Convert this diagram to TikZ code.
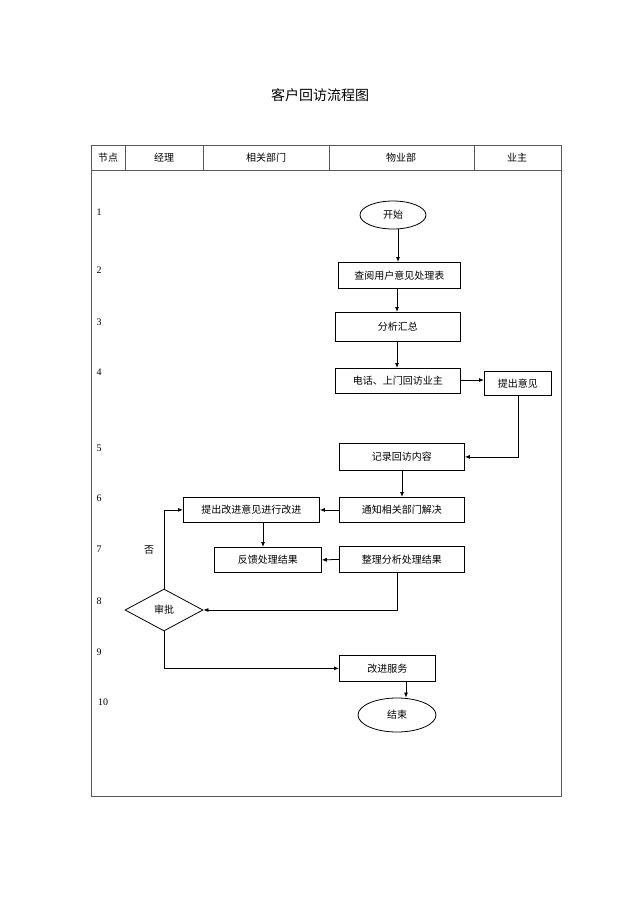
\documentclass[tikz,border=0pt]{standalone}
\usepackage{fontspec}
\setmainfont{Liberation Serif}
\newfontfamily\cjk{Noto Sans CJK SC}
\usetikzlibrary{arrows.meta,shapes.geometric}
\begin{document}
\begin{tikzpicture}[x=1pt,y=-1pt,
  box/.style={draw,thick,font=\cjk\fontsize{10}{12}\selectfont,inner sep=0pt,anchor=north west},
  oval/.style={draw,thick,ellipse,font=\cjk\fontsize{10}{12}\selectfont,inner sep=0pt},
  arr/.style={thick,-{Latex[length=5pt,width=4pt]}},
  lab/.style={font=\cjk\fontsize{10}{12}\selectfont},
  num/.style={font=\fontsize{10}{12}\selectfont}]
\useasboundingbox (0,0) rectangle (640,906);
\fill[white] (0,0) rectangle (640,906);
\node[font=\cjk\fontsize{14}{16}\selectfont] (title) at (320,95) {客户回访流程图};
% table
\draw[thick,gray!70!black] (91,145) rectangle (561,796);
\draw[thick,gray!70!black] (91,170) -- (561,170);
\foreach \x in {125,203,329,474} \draw[thick,gray!70!black] (\x,145) -- (\x,170);
\node[lab] (h1) at (108,158) {节点};
\node[lab] (h2) at (164,158) {经理};
\node[lab] (h3) at (266,158) {相关部门};
\node[lab] (h4) at (401,158) {物业部};
\node[lab] (h5) at (517,158) {业主};
% numbers
\node[num] (n1) at (99,212) {1};
\node[num] (n2) at (99,270) {2};
\node[num] (n3) at (99,322) {3};
\node[num] (n4) at (99,372) {4};
\node[num] (n5) at (99,448) {5};
\node[num] (n6) at (99,498) {6};
\node[num] (n7) at (99,549) {7};
\node[num] (n8) at (99,601) {8};
\node[num] (n9) at (99,652) {9};
\node[num] (n10) at (103,702) {10};
% nodes
\node[oval,minimum width=66pt,minimum height=28pt] (start) at (393,215) {开始};
\node[box,minimum width=122pt,minimum height=26pt] (cy) at (338,262) {查阅用户意见处理表};
\node[box,minimum width=125pt,minimum height=29pt] (fx) at (335,312) {分析汇总};
\node[box,minimum width=125pt,minimum height=25pt] (dh) at (335,368) {电话、上门回访业主};
\node[box,minimum width=67pt,minimum height=24pt] (tc) at (484,371) {提出意见};
\node[box,minimum width=125pt,minimum height=27pt] (jl) at (339,443) {记录回访内容};
\node[box,minimum width=125pt,minimum height=25pt] (tz) at (339,497) {通知相关部门解决};
\node[box,minimum width=136pt,minimum height=25pt] (gj) at (183,497) {提出改进意见进行改进};
\node[box,minimum width=107pt,minimum height=25pt] (fk) at (214,547) {反馈处理结果};
\node[box,minimum width=125pt,minimum height=26pt] (zl) at (339,546) {整理分析处理结果};
\node[draw,thick,diamond,aspect=1.85,minimum width=78pt,minimum height=42pt,inner sep=0pt,font=\cjk\fontsize{10}{12}\selectfont] (sp) at (164,610) {审批};
\node[box,minimum width=96pt,minimum height=26pt] (fw) at (339,655) {改进服务};
\node[oval,minimum width=78pt,minimum height=34pt] (end) at (397,715) {结束};
\node[lab] (no) at (149,550) {否};
% connectors
\draw[arr] (start.south -| 398,0) -- (cy.north -| 398,0);
\draw[arr] (cy.south -| 397,0) -- (fx.north -| 397,0);
\draw[arr] (fx.south -| 397,0) -- (dh.north -| 397,0);
\draw[arr] (dh.east |- 0,380) -- (tc.west |- 0,380);
\draw[arr] (tc.south -| 518,0) |- (jl.east);
\draw[arr] (jl.south -| 402,0) -- (tz.north -| 402,0);
\draw[arr] (tz.west) -- (gj.east);
\draw[arr] (gj.south -| 263,0) -- (fk.north -| 263,0);
\draw[arr] (zl.west) -- (fk.east);
\draw[arr] (zl.south -| 397,0) |- (sp.east);
\draw[arr] (sp.north) |- (gj.west);
\draw[arr] (sp.south) |- (fw.west);
\draw[arr] (fw.south -| 406,0) -- (end.north -| 406,0);
\end{tikzpicture}
\end{document}
